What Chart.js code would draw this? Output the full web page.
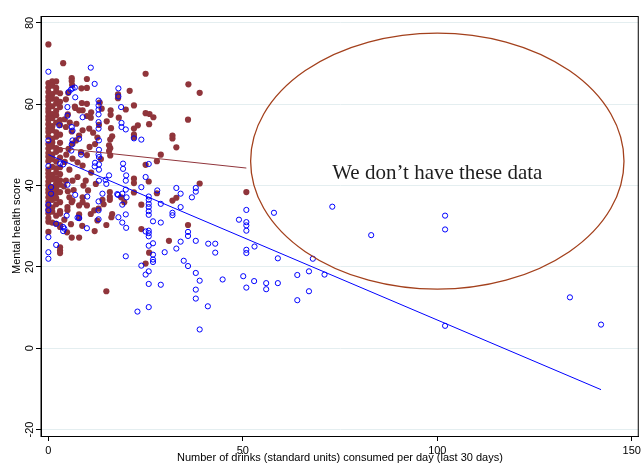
<!DOCTYPE html>
<html>
<head>
<meta charset="utf-8">
<script src="https://cdn.jsdelivr.net/npm/chart.js@4/dist/chart.umd.min.js"></script>
<style>
  html, body { margin: 0; padding: 0; background: #fff; }
  #c { display: block; }
</style>
</head>
<body>
<canvas id="c" width="644" height="466"></canvas>
<script>
// Drinks per day (x) and mental health score (y) for the filled (maroon) group
const filledPoints = [
  [0,74.7],[0,65.2],[0,64.1],[0,63.0],[0,61.8],[0,60.9],[0,60.0],[0,58.9],[0,58.1],[0,57.0],[0,56.2],[0,55.1],
  [0,54.0],[0,53.2],[0,52.0],[0,50.2],[0,49.1],[0,48.0],[0,47.1],[0,46.0],[0,43.9],[0,43.0],[0,42.1],[0,41.0],
  [0,40.1],[0,39.0],[0,38.2],[0,37.1],[0,36.0],[0,35.0],[0,34.1],[0,33.2],[0,32.0],[0,31.1],[0,28.6],
  [1,65.6],[1,64.6],[1,62.5],[1,61.4],[1,59.5],[1,57.6],[1,56.6],[1,54.6],[1,53.6],[1,51.5],[1,50.6],[1,49.6],
  [1,47.6],[1,46.5],[1,44.6],[1,42.6],[1,41.6],[1,39.6],[1,38.6],[1,37.6],[1,36.5],[1,34.6],[1,33.6],[1,30.9],
  [2,65.6],[2,64.0],[2,63.1],[2,61.2],[2,60.2],[2,58.4],[2,57.3],[2,55.5],[2,53.1],[2,52.0],[2,49.2],[2,48.3],
  [2,45.9],[2,44.2],[2,43.2],[2,41.8],[2,40.5],[2,39.2],[2,38.1],[2,36.9],[2,35.4],[2,32.6],[2,30.6],
  [3,62.7],[3,60.6],[3,59.3],[3,56.1],[3,54.9],[3,52.5],[3,50.5],[3,48.8],[3,46.9],[3,44.5],[3,42.8],[3,41.3],
  [3,40.2],[3,38.4],[3,35.9],[3,33.7],[3,33.1],[3,30.3],[3,29.8],[3,24.8],[3,24.0],[3,23.4],
  [3.8,70.1],[6.0,66.4],[6.0,65.7],[6.1,64.7],[9.9,66.2],[9.9,64.0],[8.5,63.9],[5.1,62.8],[4.5,61.2],[8.6,60.3],
  [6.9,59.1],[8.8,58.5],[10.9,56.7],[13.2,60.4],[16.0,58.5],[16.0,57.4],[15.0,55.8],[16.1,54.1],[18.1,56.7],
  [17.9,62.4],[17.9,61.5],[13.0,54.9],[10.5,54.0],[4.5,54.4],[7.9,52.3],[12.6,51.8],[16.4,52.1],[20.9,63.3],
  [13.7,58.9],[9.9,60.1],[7.9,58.5],[6.8,59.4],[9.9,57.1],[11.0,58.0],[15.9,51.3],[15.9,49.2],[15.9,47.4],
  [5.0,57.5],[4.2,56.3],[5.5,55.5],[7.2,55.2],[8.8,53.6],[11.5,53.0],[6.0,53.3],[7.1,51.1],[6.2,50.3],[8.4,48.2],
  [6.2,46.6],[7.5,45.7],[8.8,44.9],[15.6,49.9],[15.6,48.5],[5.4,43.9],[4.5,41.2],[6.2,41.2],[7.5,42.1],[9.6,41.2],
  [12.2,40.4],[5.4,37.1],[6.2,36.3],[7.9,35.1],[4.9,34.7],[4.9,33.9],[6.0,35.9],[4.1,31.6],[7.9,32.9],[7.9,32.0],
  [10.9,33.0],[11.8,33.9],[15.8,38.4],[15.8,37.2],[13.9,36.5],[14.2,35.4],[18.7,37.1],[19.5,35.9],[16.4,33.0],
  [16.2,32.2],[12.6,31.4],[8.8,37.1],[8.8,35.9],[9.9,35.1],[6.0,27.2],[7.9,27.2],[11.9,28.8],[12.9,34.3],
  [14.9,30.3],[14.9,14.0],[15.8,36.5],[9.9,47.5],[10.6,49.5],[5.2,49.0],[4.6,47.6],[4.2,45.8],[11.0,43.2],
  [9.0,40.0],[10.2,38.8],[4.0,39.8],[5.0,38.6],[4.8,28.5],[5.8,30.5],[8.7,30.1],[6.5,38.9],[12.0,50.2],[13.5,46.5],
  [25.0,67.5],[36.0,64.9],[38.9,62.8],[22.0,59.7],[19.9,58.7],[25.0,57.8],[26.0,57.6],[27.0,56.8],[25.9,55.1],
  [23.0,54.8],[22.0,54.0],[35.9,56.2],[22.0,52.5],[22.0,51.9],[31.9,52.3],[31.9,51.6],[32.9,49.4],[28.9,47.6],
  [27.9,46.0],[25.0,45.1],[22.0,41.7],[25.8,41.0],[38.9,40.5],[22.0,40.6],[27.9,38.1],[23.9,35.3],[31.9,36.3],
  [32.9,37.0],[50.9,38.4],[23.9,29.3],[35.9,30.3],[31.0,26.4],[25.9,23.5],[25.0,20.8],[22.0,38.3]
];

// Drinks per day (x) and mental health score (y) for the hollow (blue) group
const hollowPoints = [
  [0,68.0],[0,51.1],[0,44.8],[0.7,38.0],[0,33.9],[0,27.3],[0,23.6],[0,22.0],[0,35.3],[0.7,39.6],
  [2.0,25.4],[3.8,29.8],[3.8,28.8],[6.9,37.7],[7.9,32.0],[9.9,29.5],[10.0,37.3],[12.9,36.1],[12.9,31.7],
  [14.9,40.4],[17.9,37.7],[19.0,35.3],[19.0,30.9],[19.9,32.9],[19.9,22.6],[19.9,39.0],[3.0,45.4],[3.8,45.2],
  [6.2,53.5],[6.2,51.1],[5.9,48.6],[13.0,51.1],[13.0,48.8],[13.0,47.0],[13.0,45.2],[13.0,43.9],[13.0,41.2],
  [12.0,45.6],[15.6,42.5],[14.7,41.4],[19.2,45.4],[19.2,44.1],[20.0,42.5],[19.9,41.2],[19.0,38.0],[17.7,37.9],
  [13.9,38.0],[12.9,33.9],[7.5,32.1],[4.7,32.6],[2.0,30.6],[4.1,29.4],[18.0,32.2],[20.0,29.6],
  [10.9,69.0],[11.9,65.0],[18.0,63.9],[18.0,61.9],[5.2,63.0],[5.8,63.6],[6.2,63.9],[6.8,64.1],[6.9,61.7],
  [12.9,60.9],[12.9,59.7],[12.9,58.7],[12.9,57.5],[12.9,55.6],[18.7,59.3],[4.9,59.3],[4.9,57.2],[8.8,56.8],
  [12.9,54.0],[18.8,55.4],[18.8,54.4],[19.9,53.8],[12.9,47.6],[11.9,44.7],[6.0,50.1],[6.0,54.4],[2.8,54.8],
  [7.9,51.5],[8.4,47.6],[4.9,40.2],
  [22.0,51.6],[23.9,51.3],[25.8,45.3],[25.0,42.1],[23.9,39.6],[25.8,37.3],[25.8,36.5],[25.8,35.5],[25.8,34.7],
  [25.8,33.7],[25.8,32.8],[28.9,35.5],[31.9,33.3],[31.9,32.7],[34.0,34.7],[34.0,38.0],[32.9,39.4],[28.0,38.8],
  [20.1,37.1],[36.9,37.1],[37.9,38.5],[37.9,39.4],[26.9,31.2],[28.9,30.9],[25.8,27.5],[25.8,28.3],[25.8,28.9],
  [25.0,28.7],[29.9,23.6],[32.9,24.5],[34.0,26.2],[34.8,21.5],[35.9,20.2],[37.9,26.4],[41.1,25.7],[42.9,25.7],
  [42.9,23.5],[35.9,28.6],[35.9,27.6],[37.9,18.5],[38.9,16.6],[37.9,14.4],[37.9,12.2],[26.9,21.2],[26.9,21.8],
  [26.9,23.0],[25.8,25.2],[26.9,25.8],[23.9,20.3],[25.8,18.9],[25.0,18.1],[25.8,15.8],[28.9,15.6],[22.9,9.0],
  [25.8,10.1],[38.9,4.6],[41.0,10.3],[44.8,16.9],[50.1,17.7],[50.9,14.9],[52.9,16.5],[56.0,16.0],[56.0,14.5],
  [59.0,16.0],[64.0,18.0],[67.0,18.9],[71.0,18.1],[67.0,14.0],[64.0,11.8],[53.0,25.0],[59.0,22.1],[68.0,22.0],
  [49.0,31.6],[50.9,34.0],[50.9,31.0],[50.9,30.2],[50.9,28.9],[50.9,24.2],[50.9,23.4],[58.0,33.3],[73.0,34.8],
  [83.0,27.8],[102.0,32.6],[102.0,29.2],[102.0,5.5],[134.1,12.5],[142.1,5.8]
];

// Fitted lines, given by their end points (drinks, score)
const filledFit = [[0, 49.5], [50.9, 44.3]];
const hollowFit = [[0, 47.6], [142.1, -10.2]];

// Tick labels
const xTickValues = [0, 50, 100, 150];
const yTickValues = [-20, 0, 20, 40, 60, 80];

// The region with no observations, in data units: centre and half-widths
const gapCentre = [100, 46];
const gapHalfSize = [48, 31.5];
const gapNote = 'We don\u2019t have these data';

const maroon = '#90353b';
const blue = '#0000ff';
const axisFont = { family: "'Liberation Sans', Arial, sans-serif", size: 11 };

const toXY = pts => pts.map(p => ({ x: p[0], y: p[1] }));

// Box around the plot region
const framePlugin = {
  id: 'frame',
  afterDraw(chart) {
    const { ctx, chartArea: a } = chart;
    ctx.save();
    ctx.strokeStyle = '#000';
    ctx.lineWidth = 1;
    ctx.strokeRect(a.left, a.top + 0.5, a.right - a.left - 0.5, a.bottom - a.top);
    ctx.restore();
  }
};

// Ellipse marking the missing range, with its note
const gapPlugin = {
  id: 'gap',
  afterDatasetsDraw(chart) {
    const { ctx, scales: { x, y } } = chart;
    const cx = x.getPixelForValue(gapCentre[0]);
    const cy = y.getPixelForValue(gapCentre[1]);
    const rx = x.getPixelForValue(gapCentre[0] + gapHalfSize[0]) - cx;
    const ry = cy - y.getPixelForValue(gapCentre[1] + gapHalfSize[1]);
    ctx.save();
    ctx.beginPath();
    ctx.ellipse(cx, cy, rx, ry, 0, 0, Math.PI * 2);
    ctx.strokeStyle = '#a3401c';
    ctx.lineWidth = 1.3;
    ctx.stroke();
    ctx.fillStyle = '#1e1e1e';
    ctx.font = "21px 'Liberation Serif', 'Times New Roman', serif";
    ctx.textAlign = 'center';
    ctx.textBaseline = 'alphabetic';
    ctx.fillText(gapNote, cx, y.getPixelForValue(41.5));
    ctx.restore();
  }
};

new Chart(document.getElementById('c'), {
  type: 'scatter',
  data: {
    datasets: [
      {
        data: toXY(hollowFit), showLine: true, pointRadius: 0,
        borderColor: blue, borderWidth: 1, order: 0
      },
      {
        data: toXY(filledFit), showLine: true, pointRadius: 0,
        borderColor: maroon, borderWidth: 1, order: 1
      },
      {
        data: toXY(hollowPoints), pointRadius: 2.6, pointBorderWidth: 1,
        pointBackgroundColor: 'rgba(0,0,0,0)', pointBorderColor: blue, order: 2
      },
      {
        data: toXY(filledPoints), pointRadius: 3.1, pointBorderWidth: 0,
        pointBackgroundColor: maroon, pointBorderColor: maroon, order: 3
      }
    ]
  },
  options: {
    responsive: false,
    animation: false,
    layout: { padding: { top: 16, right: 1, left: 0, bottom: 0 } },
    plugins: { legend: { display: false }, tooltip: { enabled: false } },
    scales: {
      x: {
        type: 'linear', min: -1.9, max: 151.8,
        afterBuildTicks: s => { s.ticks = xTickValues.map(v => ({ value: v })); },
        afterFit: s => { s.height = 30; },
        grid: { drawOnChartArea: false, drawTicks: true, tickLength: 5, tickColor: '#000' },
        border: { color: '#000', width: 1 },
        ticks: { font: axisFont, color: '#000', padding: 3, maxRotation: 0, autoSkip: false },
        title: {
          display: true, font: axisFont, color: '#000', padding: { top: 0, bottom: 1 },
          text: 'Number of drinks (standard units) consumed per day (last 30 days)'
        }
      },
      y: {
        type: 'linear', min: -21.6, max: 81.7,
        afterBuildTicks: s => { s.ticks = yTickValues.map(v => ({ value: v })); },
        afterFit: s => { s.width = 41; },
        grid: { color: '#e4eef0', lineWidth: 1, tickLength: 5, tickColor: '#000' },
        border: { color: '#000', width: 1 },
        ticks: {
          font: axisFont, color: '#000', minRotation: 90, maxRotation: 90,
          crossAlign: 'center', padding: -2, autoSkip: false
        },
        title: {
          display: true, font: axisFont, color: '#000', padding: { top: 10, bottom: 0 },
          text: 'Mental health score'
        }
      }
    }
  },
  plugins: [framePlugin, gapPlugin]
});
</script>
</body>
</html>
